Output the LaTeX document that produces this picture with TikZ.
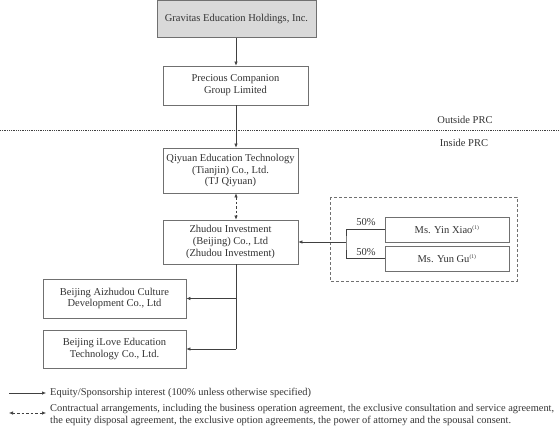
\documentclass[tikz,border=0pt]{standalone}
\usepackage{fontspec}
\setmainfont{Liberation Serif}
\usetikzlibrary{arrows.meta}
\definecolor{boxline}{HTML}{707070}
\definecolor{conn}{HTML}{404040}
\definecolor{topfill}{HTML}{D9D9D9}
\begin{document}
\begin{tikzpicture}[x=1pt,y=-1pt,
  ent/.style={draw=boxline,line width=0.7pt,fill=white,align=center,inner sep=0pt,
    font=\fontsize{10.5}{11.8}\selectfont,text=black!80},
  conline/.style={draw=conn,line width=0.6pt},
  arr/.style={conline,-{Latex[length=4pt,width=3.4pt]}},
  darr/.style={conline,dash pattern=on 2.5pt off 2pt,{Latex[length=4pt,width=3.4pt]}-{Latex[length=4pt,width=3.4pt]}},
  lbl/.style={font=\fontsize{10.5}{12}\selectfont,text=black!80,inner sep=0pt},
  legtext/.style={font=\fontsize{10.4}{12}\selectfont,text=black!80,inner sep=0pt,align=left,anchor=west}
]
\useasboundingbox (0,0) rectangle (560,428);

\node[ent,fill=topfill,minimum width=159pt,minimum height=37.5pt] (grav) at (236.5,19) {Gravitas Education Holdings, Inc.};
\node[ent,minimum width=145pt,minimum height=39pt] (prec) at (235.5,85.5) {Precious Companion\\Group Limited};
\node[ent,minimum width=135pt,minimum height=45pt] (qiy) at (230.5,170.5) {Qiyuan Education Technology\\(Tianjin) Co., Ltd.\\(TJ Qiyuan)};
\node[ent,minimum width=135pt,minimum height=44pt] (zhu) at (230.5,242) {Zhudou Investment\\(Beijing) Co., Ltd\\(Zhudou Investment)};
\node[ent,minimum width=143pt,minimum height=39pt] (aiz) at (114.5,298.5) {Beijing Aizhudou Culture\\Development Co., Ltd};
\node[ent,minimum width=143pt,minimum height=38pt] (ilo) at (114.5,349) {Beijing iLove Education\\Technology Co., Ltd.};

\draw[boxline,line width=0.7pt,dash pattern=on 3pt off 2pt] (330,197) rectangle (517,281);
\node[ent,minimum width=124pt,minimum height=25pt] (yin) at (447,229.5) {Ms. Yin Xiao\textsuperscript{\fontsize{5.5}{6}\selectfont(1)}};
\node[ent,minimum width=124pt,minimum height=25pt] (gu) at (447,258.5) {Ms. Yun Gu\textsuperscript{\fontsize{5.5}{6}\selectfont(1)}};

% dotted PRC line
\draw[conn,line width=0.6pt,dash pattern=on 0.6pt off 1.2pt] (0,130) -- (560,130);
\node[lbl] (out) at (465,120) {Outside PRC};
\node[lbl] (ins) at (464,143) {Inside PRC};

% connectors
\coordinate (gx) at (236,0);
\draw[arr] (gx |- grav.south) -- (gx |- prec.north);
\draw[arr] (gx |- prec.south) -- (gx |- qiy.north);
\draw[darr] (gx |- qiy.south) -- (gx |- zhu.north);

\coordinate (br) at (346,242);
\draw[conline] (yin.west) -| (br) |- (gu.west);
\draw[arr] (br) -- (zhu.east |- br);
\node[lbl] (p1) at (366,222) {50\%};
\node[lbl] (p2) at (366,252) {50\%};

\coordinate (zb) at (236,349);
\draw[conline] (gx |- zhu.south) -- (zb);
\draw[arr] (zb |- aiz.east) -- (aiz.east);
\draw[arr] (zb) -- (ilo.east);

% legend
\coordinate (l1a) at (9,393);
\coordinate (l1b) at (46,393);
\coordinate (l2a) at (9,413);
\coordinate (l2b) at (46,413);
\draw[arr] (l1a) -- (l1b);
\draw[darr] (l2a) -- (l2b);
\node[legtext] (t1) at (50,393) {Equity/Sponsorship interest (100\% unless otherwise specified)};
\node[legtext] (t2) at (50,415) {Contractual arrangements, including the business operation agreement, the exclusive consultation and service agreement,\\the equity disposal agreement, the exclusive option agreements, the power of attorney and the spousal consent.};
\end{tikzpicture}
\end{document}
